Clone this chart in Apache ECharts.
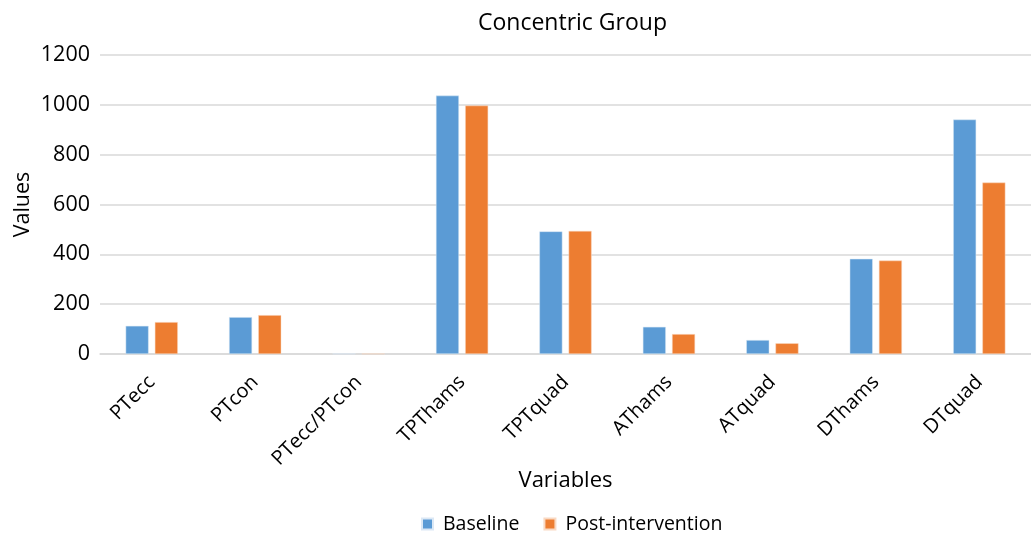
<!DOCTYPE html>
<html><head><meta charset="utf-8">
<script src="https://cdn.jsdelivr.net/npm/echarts@6/dist/echarts.min.js"></script>
<style>html,body{margin:0;padding:0;background:#fff}#c{width:1031px;height:535px}</style>
</head><body><div id="c"></div>
<script>
const categories = ['PTecc','PTcon','PTecc/PTcon','TPThams','TPTquad','AThams','ATquad','DThams','DTquad'];
const baseline = [113, 148, 1, 1037, 492, 109, 56, 382, 941];
const postIntervention = [128, 156, 1, 997, 494, 80, 43, 375, 688];
const yTicks = [0, 200, 400, 600, 800, 1000, 1200];

const FONT = '"Open Sans", "Liberation Sans", sans-serif';
const chart = echarts.init(document.getElementById('c'), null, {renderer: 'canvas'});
chart.setOption({
  animation: false,
  title: {text: 'Concentric Group', left: 473, top: 7,
    textStyle: {fontFamily: FONT, fontSize: 23, fontWeight: 'normal', color: '#000'}},
  legend: {top: 509, left: 416, itemWidth: 11, itemHeight: 11, itemGap: 24,
    icon: 'rect', textStyle: {fontFamily: FONT, fontSize: 19.5, color: '#000', padding: [0, 0, 0, 5]},
    data: ['Baseline', 'Post-intervention']},
  grid: {left: 100, right: -3, top: 55, bottom: 181, containLabel: false},
  xAxis: {type: 'category', data: categories,
    name: 'Variables', nameLocation: 'middle', nameGap: 116, nameMoveOverlap: false,
    nameTextStyle: {fontFamily: FONT, fontSize: 22, color: '#000'},
    axisLine: {lineStyle: {color: '#d9d9d9', width: 1.5}},
    axisTick: {show: false},
    axisLabel: {rotate: 45, margin: 25, interval: 0, fontFamily: FONT, fontSize: 20, color: '#000'}},
  yAxis: {type: 'value', min: yTicks[0], max: yTicks[yTicks.length - 1], interval: 200,
    name: 'Values', nameLocation: 'middle', nameGap: 66, nameMoveOverlap: false,
    nameTextStyle: {fontFamily: FONT, fontSize: 21.5, color: '#000'},
    axisLine: {show: false}, axisTick: {show: false},
    axisLabel: {margin: 10, fontFamily: FONT, fontSize: 21.5, color: '#000',
      formatter: v => String(v)},
    splitLine: {lineStyle: {color: '#d9d9d9', width: 1.5}}},
  series: [
    {name: 'Baseline', type: 'bar', data: baseline, barWidth: 23, barGap: '27%',
      itemStyle: {color: '#5b9bd5', borderColor: '#dbe8f5', borderWidth: 0.5}},
    {name: 'Post-intervention', type: 'bar', data: postIntervention, barWidth: 23,
      itemStyle: {color: '#ed7d31', borderColor: '#f9d9c3', borderWidth: 0.5}}
  ]
});
</script></body></html>
